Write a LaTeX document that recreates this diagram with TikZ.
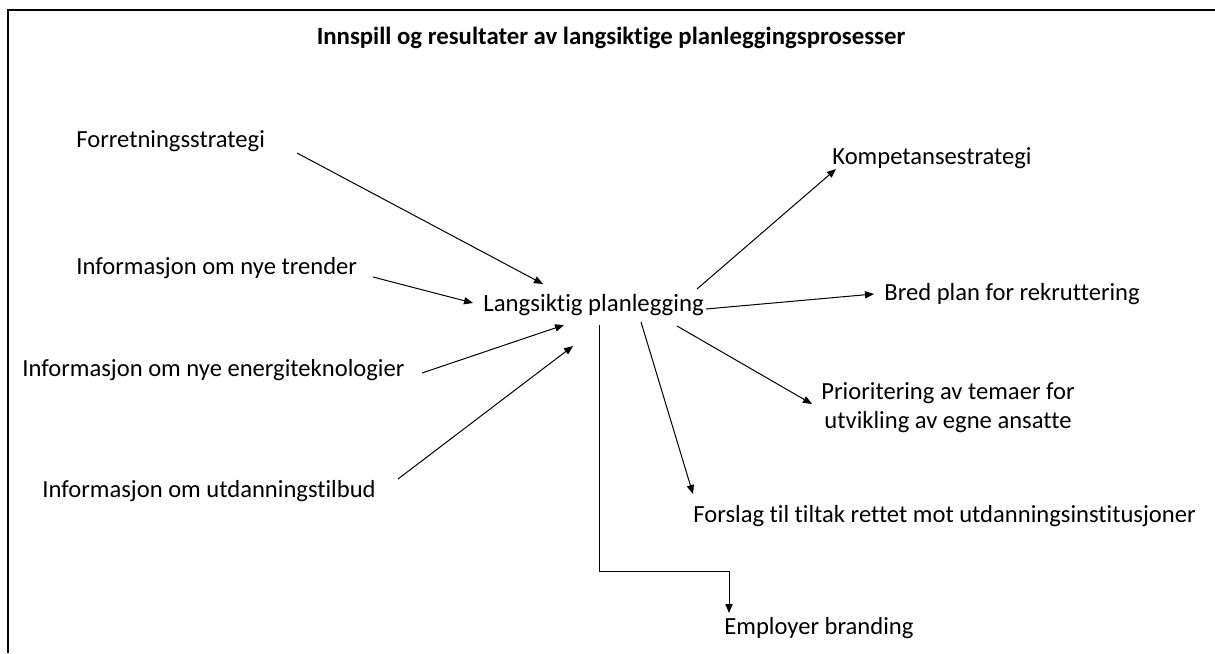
\documentclass[tikz,border=0pt]{standalone}
\usepackage{fontspec}
\setmainfont{Carlito}[Ligatures=NoCommon]
\usetikzlibrary{arrows.meta}
\begin{document}
\begin{tikzpicture}[x=0.5pt,y=-0.5pt,
  lbl/.style={inner sep=0pt,anchor=mid west,font=\fontsize{12.3pt}{14.5pt}\selectfont},
  arr/.style={line width=0.5pt,-{Triangle[length=4.5pt,width=3.6pt]}},
  frame/.style={line width=1pt}]
\useasboundingbox (0,0) rectangle (1215,653);
\draw[frame] (1215,10) -- (8,10) -- (8,653);
\node[inner sep=0pt,font=\bfseries\fontsize{12.4pt}{14pt}\selectfont] (title) at (611,38) {Innspill og resultater av langsiktige planleggingsprosesser};
% inputs
\node[lbl] (fs) at (76,143) {Forretningsstrategi};
\node[lbl] (tr) at (76,270) {Informasjon om nye trender};
\node[lbl] (en) at (22,372) {Informasjon om nye energiteknologier};
\node[lbl] (ut) at (42,493) {Informasjon om utdanningstilbud};
% centre
\node[lbl,font=\fontsize{12.4pt}{14.5pt}\selectfont] (lp) at (483,307) {Langsiktig planlegging};
% outputs
\node[lbl] (ko) at (832,160) {Kompetansestrategi};
\node[lbl] (br) at (884,296) {Bred plan for rekruttering};
\node[inner sep=0pt,align=center,font=\fontsize{12.3pt}{14.6pt}\selectfont] (pr) at (948,408) {Prioritering av temaer for\\utvikling av egne ansatte};
\node[lbl] (fo) at (693,518) {Forslag til tiltak rettet mot utdanningsinstitusjoner};
\node[lbl] (em) at (724,630) {Employer branding};
% connector end points
\coordinate (fsS) at (297,153);
\coordinate (fsE) at (543,284);
\coordinate (trS) at (373,277);
\coordinate (trE) at (473,303);
\coordinate (enS) at (422,373);
\coordinate (enE) at (564,325);
\coordinate (utS) at (398,479);
\coordinate (utE) at (573,346);
\coordinate (koS) at (697,289);
\coordinate (koE) at (836,169);
\coordinate (brS) at (706,309);
\coordinate (brE) at (874,294);
\coordinate (prS) at (677,326);
\coordinate (prE) at (812,404);
\coordinate (foS) at (641,322);
\coordinate (foE) at (693,494);
\coordinate (emS) at (599,325);
\coordinate (emK1) at (599,571);
\coordinate (emK2) at (729,571);
\coordinate (emE) at (729,613);
\draw[arr] (fsS) -- (fsE);
\draw[arr] (trS) -- (trE);
\draw[arr] (enS) -- (enE);
\draw[arr] (utS) -- (utE);
\draw[arr] (koS) -- (koE);
\draw[arr] (brS) -- (brE);
\draw[arr] (prS) -- (prE);
\draw[arr] (foS) -- (foE);
\draw[arr] (emS) -- (emK1) -- (emK2) -- (emE);
\end{tikzpicture}
\end{document}
